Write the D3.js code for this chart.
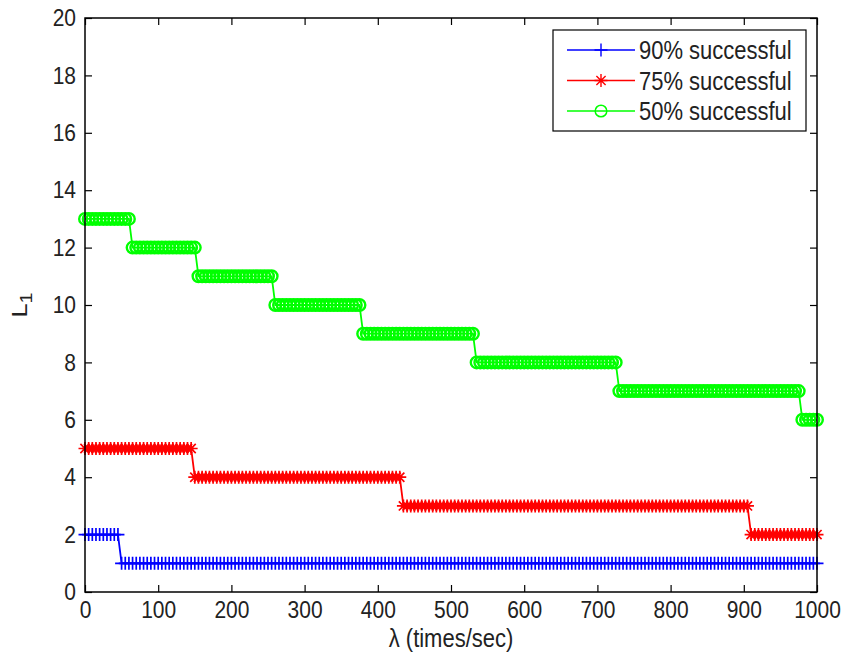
<!DOCTYPE html>
<html>
<head>
<meta charset="utf-8">
<script src="https://cdn.jsdelivr.net/npm/d3@7"></script>
<style>
  html, body { margin: 0; padding: 0; background: #fff; }
  svg { display: block; }
  text { font-family: "Liberation Sans", Arial, sans-serif; fill: #222; }
</style>
</head>
<body>
<svg id="chart" width="842" height="658"></svg>
<script>
// Arrival rate λ (times/sec), sampled every 5
const lambda = [
  0,5,10,15,20,25,30,35,40,45,50,55,60,65,70,75,80,85,90,95,
  100,105,110,115,120,125,130,135,140,145,150,155,160,165,170,175,180,185,190,195,
  200,205,210,215,220,225,230,235,240,245,250,255,260,265,270,275,280,285,290,295,
  300,305,310,315,320,325,330,335,340,345,350,355,360,365,370,375,380,385,390,395,
  400,405,410,415,420,425,430,435,440,445,450,455,460,465,470,475,480,485,490,495,
  500,505,510,515,520,525,530,535,540,545,550,555,560,565,570,575,580,585,590,595,
  600,605,610,615,620,625,630,635,640,645,650,655,660,665,670,675,680,685,690,695,
  700,705,710,715,720,725,730,735,740,745,750,755,760,765,770,775,780,785,790,795,
  800,805,810,815,820,825,830,835,840,845,850,855,860,865,870,875,880,885,890,895,
  900,905,910,915,920,925,930,935,940,945,950,955,960,965,970,975,980,985,990,995,
  1000
];

// L1 needed for 90% success
const success90 = [
  2,2,2,2,2,2,2,2,2,2,1,1,1,1,1,1,1,1,1,1,
  1,1,1,1,1,1,1,1,1,1,1,1,1,1,1,1,1,1,1,1,
  1,1,1,1,1,1,1,1,1,1,1,1,1,1,1,1,1,1,1,1,
  1,1,1,1,1,1,1,1,1,1,1,1,1,1,1,1,1,1,1,1,
  1,1,1,1,1,1,1,1,1,1,1,1,1,1,1,1,1,1,1,1,
  1,1,1,1,1,1,1,1,1,1,1,1,1,1,1,1,1,1,1,1,
  1,1,1,1,1,1,1,1,1,1,1,1,1,1,1,1,1,1,1,1,
  1,1,1,1,1,1,1,1,1,1,1,1,1,1,1,1,1,1,1,1,
  1,1,1,1,1,1,1,1,1,1,1,1,1,1,1,1,1,1,1,1,
  1,1,1,1,1,1,1,1,1,1,1,1,1,1,1,1,1,1,1,1,
  1
];

// L1 needed for 75% success
const success75 = [
  5,5,5,5,5,5,5,5,5,5,5,5,5,5,5,5,5,5,5,5,
  5,5,5,5,5,5,5,5,5,5,4,4,4,4,4,4,4,4,4,4,
  4,4,4,4,4,4,4,4,4,4,4,4,4,4,4,4,4,4,4,4,
  4,4,4,4,4,4,4,4,4,4,4,4,4,4,4,4,4,4,4,4,
  4,4,4,4,4,4,4,3,3,3,3,3,3,3,3,3,3,3,3,3,
  3,3,3,3,3,3,3,3,3,3,3,3,3,3,3,3,3,3,3,3,
  3,3,3,3,3,3,3,3,3,3,3,3,3,3,3,3,3,3,3,3,
  3,3,3,3,3,3,3,3,3,3,3,3,3,3,3,3,3,3,3,3,
  3,3,3,3,3,3,3,3,3,3,3,3,3,3,3,3,3,3,3,3,
  3,3,2,2,2,2,2,2,2,2,2,2,2,2,2,2,2,2,2,2,
  2
];

// L1 needed for 50% success
const success50 = [
  13,13,13,13,13,13,13,13,13,13,13,13,13,12,12,12,12,12,12,12,
  12,12,12,12,12,12,12,12,12,12,12,11,11,11,11,11,11,11,11,11,
  11,11,11,11,11,11,11,11,11,11,11,11,10,10,10,10,10,10,10,10,
  10,10,10,10,10,10,10,10,10,10,10,10,10,10,10,10,9,9,9,9,
  9,9,9,9,9,9,9,9,9,9,9,9,9,9,9,9,9,9,9,9,
  9,9,9,9,9,9,9,8,8,8,8,8,8,8,8,8,8,8,8,8,
  8,8,8,8,8,8,8,8,8,8,8,8,8,8,8,8,8,8,8,8,
  8,8,8,8,8,8,7,7,7,7,7,7,7,7,7,7,7,7,7,7,
  7,7,7,7,7,7,7,7,7,7,7,7,7,7,7,7,7,7,7,7,
  7,7,7,7,7,7,7,7,7,7,7,7,7,7,7,7,6,6,6,6,
  6
];

const xTicks = [0,100,200,300,400,500,600,700,800,900,1000];
const yTicks = [0,2,4,6,8,10,12,14,16,18,20];

const seriesNames = ["90% successful", "75% successful", "50% successful"];
const seriesColors = ["#0000ff", "#ff0000", "#00ff00"];
const seriesMarkers = ["plus", "star", "circle"];
const seriesValues = [success90, success75, success50];

const svg = d3.select("#chart");
const plotLeft = 85, plotRight = 817, plotTop = 18, plotBottom = 592;
const fontSize = 21;
const stretch = 1.15; // glyphs are drawn slightly tall

const x = d3.scaleLinear().domain([0, 1000]).range([plotLeft, plotRight]);
const y = d3.scaleLinear().domain([0, 20]).range([plotBottom, plotTop]);

// marker shapes
function markerPath(kind) {
  const s = 6.5, d = 4.6;
  if (kind === "plus") return `M${-s},0H${s}M0,${-s}V${s}`;
  if (kind === "star") return `M${-s},0H${s}M0,${-s}V${s}M${-d},${-d}L${d},${d}M${-d},${d}L${d},${-d}`;
  return null;
}
function drawMarker(g, kind, color, bold) {
  if (kind === "circle") {
    g.append("circle").attr("r", 5.8).attr("fill", "none")
      .attr("stroke", color).attr("stroke-width", bold ? 2.4 : 1.5);
  } else {
    g.append("path").attr("d", markerPath(kind)).attr("fill", "none")
      .attr("stroke", color).attr("stroke-width", bold ? 1.7 : 1.4);
  }
}

// axes with inward ticks
const axB = d3.axisBottom(x).tickValues(xTicks).tickSizeInner(-7).tickSizeOuter(0)
  .tickPadding(9).tickFormat(d3.format("d"));
const axT = d3.axisTop(x).tickValues(xTicks).tickSizeInner(-7).tickSizeOuter(0).tickFormat("");
const axL = d3.axisLeft(y).tickValues(yTicks).tickSizeInner(-7).tickSizeOuter(0)
  .tickPadding(9).tickFormat(d3.format("d"));
const axR = d3.axisRight(y).tickValues(yTicks).tickSizeInner(-7).tickSizeOuter(0).tickFormat("");

function styleAxis(g) {
  g.select(".domain").remove();
  g.selectAll(".tick line").attr("stroke", "#000").attr("stroke-width", 1.2);
  g.selectAll(".tick text").attr("font-size", fontSize).attr("fill", "#222")
    .attr("font-family", '"Liberation Sans", Arial, sans-serif');
}

const gB = svg.append("g").attr("transform", `translate(0,${plotBottom})`).call(axB).call(styleAxis);
gB.selectAll(".tick text").attr("transform", `translate(0,9) scale(1,${stretch}) translate(0,-9)`);
svg.append("g").attr("transform", `translate(0,${plotTop})`).call(axT).call(styleAxis);
const gL = svg.append("g").attr("transform", `translate(${plotLeft},0)`).call(axL).call(styleAxis);
gL.selectAll(".tick text").attr("transform", `scale(1,${stretch})`);
svg.append("g").attr("transform", `translate(${plotRight},0)`).call(axR).call(styleAxis);

// series lines and markers
const line = d3.line().x((d, i) => x(lambda[i])).y(d => y(d));
const plot = svg.append("g");
seriesValues.forEach((vals, k) => {
  plot.append("path").datum(vals).attr("d", line)
    .attr("fill", "none").attr("stroke", seriesColors[k]).attr("stroke-width", 1.8);
  const mg = plot.append("g");
  vals.forEach((v, i) => {
    const g = mg.append("g").attr("transform", `translate(${x(lambda[i])},${y(v)})`);
    drawMarker(g, seriesMarkers[k], seriesColors[k], true);
  });
});

// frame
svg.append("rect").attr("x", plotLeft).attr("y", plotTop)
  .attr("width", plotRight - plotLeft).attr("height", plotBottom - plotTop)
  .attr("fill", "none").attr("stroke", "#000").attr("stroke-width", 1.5);

// axis labels
svg.append("text")
  .attr("transform", `translate(${(plotLeft + plotRight) / 2},647) scale(1,${stretch})`)
  .attr("text-anchor", "middle").attr("font-size", 22)
  .text("λ (times/sec)");

const yl = svg.append("text")
  .attr("transform", `translate(27,${(plotTop + plotBottom) / 2}) rotate(-90) scale(${stretch},1)`)
  .attr("text-anchor", "middle").attr("font-size", 22);
yl.append("tspan").text("L");
yl.append("tspan").attr("font-size", 17).attr("dy", 5).text("1");

// legend
const lg = svg.append("g");
lg.append("rect").attr("x", 553).attr("y", 30).attr("width", 253).attr("height", 101)
  .attr("fill", "#fff").attr("stroke", "#000").attr("stroke-width", 1.2);
seriesNames.forEach((name, k) => {
  const cy = 50 + k * 30.5;
  lg.append("line").attr("x1", 567).attr("x2", 635).attr("y1", cy).attr("y2", cy)
    .attr("stroke", seriesColors[k]).attr("stroke-width", 1.5);
  const g = lg.append("g").attr("transform", `translate(601,${cy})`);
  drawMarker(g, seriesMarkers[k], seriesColors[k], false);
  lg.append("text")
    .attr("transform", `translate(639,${cy}) scale(1,${stretch})`)
    .attr("dy", "0.36em").attr("font-size", 22).text(name);
});
</script>
</body>
</html>
